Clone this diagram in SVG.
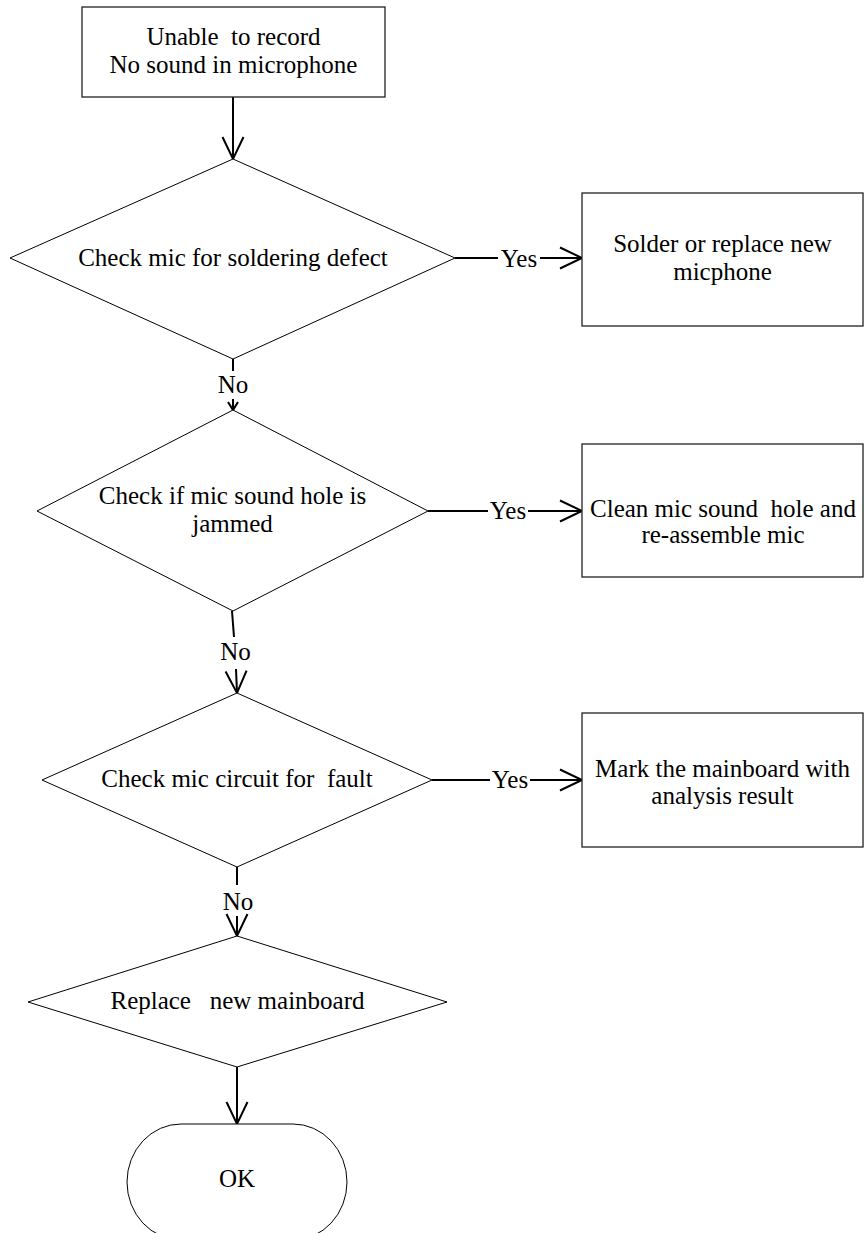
<svg xmlns="http://www.w3.org/2000/svg" width="864" height="1233" viewBox="0 0 864 1233">
<style>
  .t { font-family: "Liberation Serif", "Times New Roman", serif; font-size: 25px; fill: #000; text-anchor: middle; white-space: pre; }
  .shape { fill: #fff; stroke: #000; stroke-width: 1; }
  .box { fill: #fff; stroke: #222; stroke-width: 1.3; }
  .conn { fill: none; stroke: #000; stroke-width: 2; }
</style>
<defs>
  <marker id="arr" markerUnits="userSpaceOnUse" viewBox="-24 -13 26 26" markerWidth="26" markerHeight="26" refX="0" refY="0" orient="auto" style="overflow:visible">
    <path d="M-22,-10.5 L0,0 L-22,10.5" fill="none" stroke="#000" stroke-width="2"/>
  </marker>
  <marker id="arrs" markerUnits="userSpaceOnUse" viewBox="-10 -7 12 14" markerWidth="12" markerHeight="14" refX="0" refY="0" orient="auto" style="overflow:visible">
    <path d="M-8,-5 L0,0 L-8,5" fill="none" stroke="#000" stroke-width="2"/>
  </marker>
</defs>
<rect width="864" height="1233" fill="#fff"/>

<g id="connectors">
  <path class="conn" d="M233,97 L233,159" marker-end="url(#arr)"/>
  <path class="conn" d="M455,258 L498,258"/>
  <path class="conn" d="M540,258 L582,258" marker-end="url(#arr)"/>
  <path class="conn" d="M233,359 L233,371"/>
  <path class="conn" d="M233,399 L233,410" marker-end="url(#arrs)"/>
  <path class="conn" d="M428,511 L488,511"/>
  <path class="conn" d="M528,511 L582,511" marker-end="url(#arr)"/>
  <path class="conn" d="M232,611 L234,637"/>
  <path class="conn" d="M236,669 L237,693" marker-end="url(#arr)"/>
  <path class="conn" d="M432,780 L490,780"/>
  <path class="conn" d="M530,780 L582,780" marker-end="url(#arr)"/>
  <path class="conn" d="M237,867 L237,885"/>
  <path class="conn" d="M237,916 L237,936" marker-end="url(#arr)"/>
  <path class="conn" d="M237,1067 L237,1124" marker-end="url(#arr)"/>
  <text class="t" x="519" y="267">Yes</text>
  <text class="t" x="508" y="519">Yes</text>
  <text class="t" x="510" y="788">Yes</text>
  <text class="t" x="233" y="393">No</text>
  <text class="t" x="235.5" y="660">No</text>
  <text class="t" x="238" y="910">No</text>
</g>

<g id="start">
  <rect class="box" x="82" y="7" width="303" height="90"/>
  <text class="t" x="233.5" y="45">Unable  to record</text>
  <text class="t" x="233.5" y="73">No sound in microphone</text>
</g>

<g id="d1">
  <polygon class="shape" points="233,159 455,258 233,359 10,258"/>
  <text class="t" x="233" y="266">Check mic for soldering defect</text>
</g>

<g id="b1">
  <rect class="box" x="582" y="193" width="281" height="133"/>
  <text class="t" x="722.5" y="252">Solder or replace new</text>
  <text class="t" x="722.5" y="280">micphone</text>
</g>

<g id="d2">
  <polygon class="shape" points="233,410 428,511 233,611 37,511"/>
  <text class="t" x="232.5" y="504">Check if mic sound hole is</text>
  <text class="t" x="232.5" y="532">jammed</text>
</g>

<g id="b2">
  <rect class="box" x="582" y="444" width="281" height="133"/>
  <text class="t" x="723" y="517">Clean mic sound  hole and</text>
  <text class="t" x="723" y="543">re-assemble mic</text>
</g>

<g id="d3">
  <polygon class="shape" points="237,693 432,780 237,867 42,780"/>
  <text class="t" x="237" y="787">Check mic circuit for  fault</text>
</g>

<g id="b3">
  <rect class="box" x="582" y="713" width="281" height="134"/>
  <text class="t" x="722.5" y="777">Mark the mainboard with</text>
  <text class="t" x="722.5" y="804">analysis result</text>
</g>

<g id="d4">
  <polygon class="shape" points="237,936 447,1002 237,1067 28,1002"/>
  <text class="t" x="237.5" y="1009">Replace   new mainboard</text>
</g>

<g id="end">
  <rect class="shape" x="127" y="1124" width="220" height="116" rx="54" ry="58"/>
  <text class="t" x="237" y="1187">OK</text>
</g>
</svg>
